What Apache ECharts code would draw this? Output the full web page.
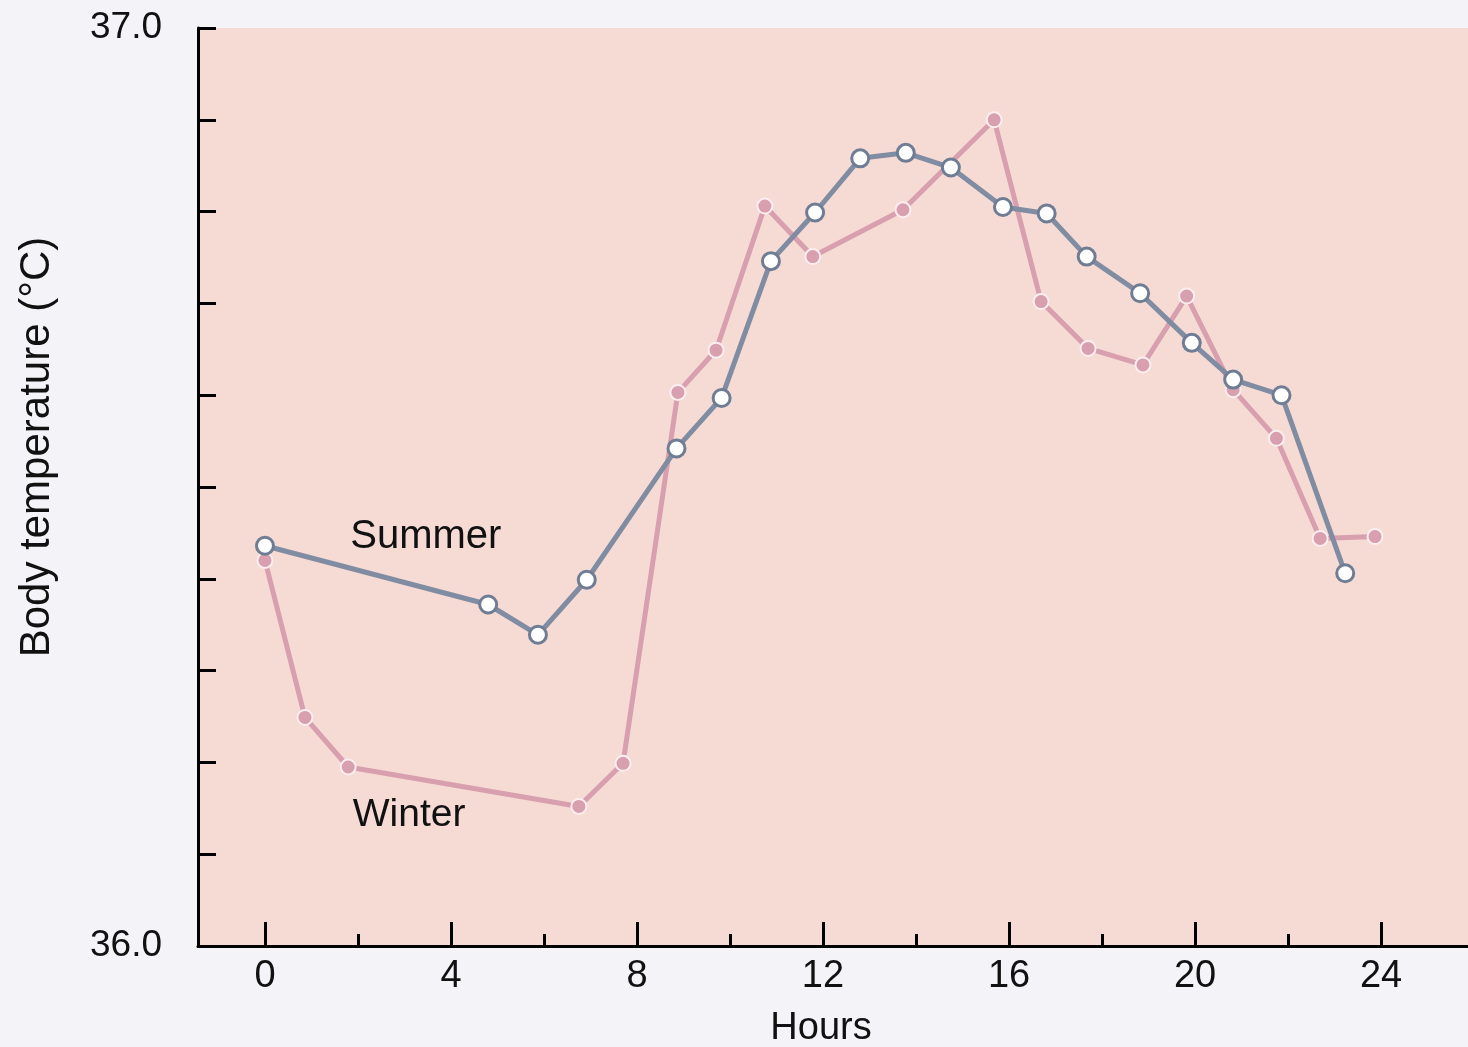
<!DOCTYPE html>
<html>
<head>
<meta charset="utf-8">
<script src="https://cdn.jsdelivr.net/npm/echarts@6/dist/echarts.min.js"></script>
<style>
  html, body { margin: 0; padding: 0; background: #f4f4f8; }
  #chart { width: 1468px; height: 1047px; }
</style>
</head>
<body>
<div id="chart"></div>
<script>
// ---- Data ----
const summerHours = [0, 4.8, 5.87, 6.92, 8.85, 9.82, 10.88, 11.83, 12.8, 13.78, 14.75, 15.87, 16.81, 17.67, 18.82, 19.93, 20.82, 21.86, 23.23];
const summerTemps = [36.436, 36.372, 36.339, 36.399, 36.542, 36.597, 36.746, 36.799, 36.858, 36.864, 36.848, 36.805, 36.798, 36.751, 36.711, 36.657, 36.617, 36.600, 36.406];

const winterHours = [0, 0.86, 1.79, 6.75, 7.7, 8.88, 9.7, 10.75, 11.78, 13.72, 15.68, 16.69, 17.7, 18.88, 19.82, 20.82, 21.75, 22.69, 23.87];
const winterTemps = [36.42, 36.249, 36.195, 36.152, 36.199, 36.603, 36.649, 36.806, 36.751, 36.802, 36.900, 36.702, 36.651, 36.633, 36.708, 36.606, 36.553, 36.444, 36.446];

const xLabelValues = [0, 4, 8, 12, 16, 20, 24];
const xMinorValues = [2, 6, 10, 14, 18, 22];
const yLabelValues = [36, 37];

const seriesNames = ['Summer', 'Winter'];
const labelPos = { Summer: [3.46, 36.4455], Winter: [3.1, 36.1425] };

const summerData = summerHours.map((h, i) => [h, summerTemps[i]]);
const winterData = winterHours.map((h, i) => [h, winterTemps[i]]);

const FONT = '"Liberation Sans", Arial, sans-serif';
const chart = echarts.init(document.getElementById('chart'));

const xMin = -1.44, xMax = 25.87;

chart.setOption({
  backgroundColor: '#f4f4f8',
  animation: false,
  grid: {
    left: 198, right: 0, top: 28, bottom: 101,
    containLabel: false, outerBoundsMode: 'none',
    show: true, backgroundColor: '#f6dad4', borderWidth: 0
  },
  xAxis: [
    {
      type: 'value', min: xMin, max: xMax,
      name: 'Hours', nameLocation: 'middle', nameGap: 64,
      nameTextStyle: { fontFamily: FONT, fontSize: 38, color: '#111', padding: [0, 24, 0, 0] },
      axisLine: { show: true, onZero: false, lineStyle: { color: '#000', width: 3 } },
      axisTick: { show: true, inside: true, length: 24, customValues: xLabelValues, lineStyle: { color: '#000', width: 3 } },
      axisLabel: { show: true, customValues: xLabelValues, margin: 12, fontFamily: FONT, fontSize: 38, color: '#111' },
      splitLine: { show: false }
    },
    {
      type: 'value', min: xMin, max: xMax, position: 'bottom',
      axisLine: { show: false },
      axisTick: { show: true, inside: true, length: 12, customValues: xMinorValues, lineStyle: { color: '#000', width: 3 } },
      axisLabel: { show: false },
      splitLine: { show: false }
    }
  ],
  yAxis: {
    type: 'value', min: 36, max: 37, interval: 0.1,
    name: 'Body temperature (°C)', nameLocation: 'middle', nameGap: 140,
    nameTextStyle: { fontFamily: FONT, fontSize: 42, color: '#111', padding: [0, 0, 0, 80] },
    axisLine: { show: true, onZero: false, lineStyle: { color: '#000', width: 3 } },
    axisTick: { show: true, inside: true, length: 18, lineStyle: { color: '#000', width: 3 } },
    axisLabel: {
      show: true, customValues: yLabelValues, margin: 36,
      fontFamily: FONT, fontSize: 37, color: '#111',
      formatter: v => v.toFixed(1)
    },
    splitLine: { show: false }
  },
  series: [
    {
      name: seriesNames[1], type: 'line', data: winterData,
      symbol: 'circle', symbolSize: 15,
      lineStyle: { color: '#d89fae', width: 5 },
      itemStyle: { color: '#d89fae', borderColor: '#fbeef0', borderWidth: 2 },
      z: 2,
      markPoint: {
        symbol: 'circle', symbolSize: 0,
        data: [{ coord: labelPos.Winter, value: 'Winter' }],
        label: { show: true, position: 'inside', formatter: 'Winter', fontFamily: FONT, fontSize: 39, color: '#111' }
      }
    },
    {
      name: seriesNames[0], type: 'line', data: summerData,
      symbol: 'circle', symbolSize: 17,
      lineStyle: { color: '#7f8ca2', width: 5 },
      itemStyle: { color: '#ffffff', borderColor: '#6f7d94', borderWidth: 3 },
      z: 3,
      markPoint: {
        symbol: 'circle', symbolSize: 0,
        data: [{ coord: labelPos.Summer, value: 'Summer' }],
        label: { show: true, position: 'inside', formatter: 'Summer', fontFamily: FONT, fontSize: 40, color: '#111' }
      }
    }
  ]
});
</script>
</body>
</html>
